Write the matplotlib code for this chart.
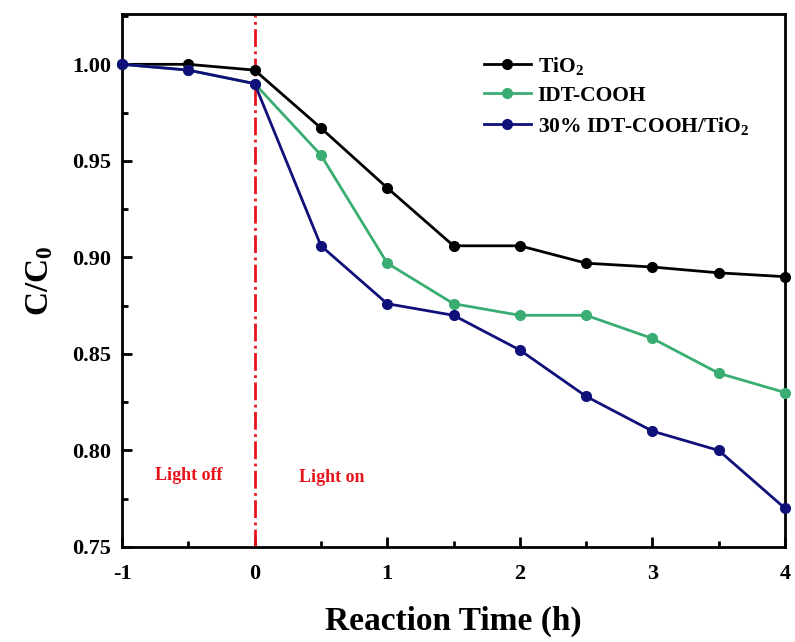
import matplotlib
matplotlib.use('Agg')
import matplotlib.pyplot as plt
from matplotlib.ticker import MultipleLocator, FuncFormatter

plt.rcParams['font.family'] = ['Liberation Serif', 'DejaVu Serif']
plt.rcParams['font.weight'] = 'bold'
plt.rcParams['mathtext.fontset'] = 'custom'
plt.rcParams['mathtext.rm'] = 'Liberation Serif:bold'
plt.rcParams['mathtext.it'] = 'Liberation Serif:bold'
plt.rcParams['mathtext.bf'] = 'Liberation Serif:bold'

# ── data ──────────────────────────────────────────────────────────────────────
time_h = [-1, -0.5, 0, 0.5, 1, 1.5, 2, 2.5, 3, 3.5, 4]
tio2 = [1.000, 1.000, 0.997, 0.967, 0.936, 0.906, 0.906, 0.897, 0.895, 0.892, 0.890]
idt_cooh = [1.000, 0.997, 0.990, 0.953, 0.897, 0.876, 0.870, 0.870, 0.858, 0.840, 0.830]
composite = [1.000, 0.997, 0.990, 0.906, 0.876, 0.870, 0.852, 0.828, 0.810, 0.800, 0.770]

labels = ['TiO$_2$', 'IDT-COOH', '30% IDT-COOH/TiO$_2$']
colors = ['#000000', '#3aad72', '#10107a']

fig = plt.figure(figsize=(7.95, 6.42), dpi=100)
ax = fig.add_axes([0.1535, 0.148, 0.834, 0.830])

for ys, lab, c in zip([tio2, idt_cooh, composite], labels, colors):
    ax.plot(time_h, ys, '-o', color=c, lw=2, ms=7, label=lab, clip_on=False, zorder=3)

ax.axvline(0, color='#e8141c', lw=2, ls='-.', zorder=2)

ax.text(-0.5, 0.787, 'Light off', color='#e8141c', fontsize=13,
        fontweight='bold', ha='center', va='center')
ax.text(0.58, 0.786, 'Light on', color='#e8141c', fontsize=13,
        fontweight='bold', ha='center', va='center')

ax.set_xlim(-1, 4)
ax.set_ylim(0.75, 1.026)
ax.xaxis.set_major_locator(MultipleLocator(1))
ax.xaxis.set_minor_locator(MultipleLocator(0.5))
ax.xaxis.set_major_formatter(FuncFormatter(lambda v, p: '%d' % round(v)))
ax.yaxis.set_major_locator(MultipleLocator(0.05))
ax.yaxis.set_minor_locator(MultipleLocator(0.025))
ax.yaxis.set_major_formatter(FuncFormatter(lambda v, p: '%.2f' % v))
ax.tick_params(which='major', direction='in', length=7, width=2, labelsize=16)
ax.tick_params(axis='x', which='major', pad=12)
ax.tick_params(axis='y', which='major', pad=8)
ax.tick_params(which='minor', direction='in', length=4, width=2)
for lbl in ax.get_xticklabels() + ax.get_yticklabels():
    lbl.set_fontweight('bold')
for s in ax.spines.values():
    s.set_linewidth(2)

ax.set_xlabel('Reaction Time (h)', fontsize=24, fontweight='bold', labelpad=16)
ax.set_ylabel('C/C$_0$', fontsize=24, fontweight='bold', labelpad=12)

leg = ax.legend(loc='upper right', bbox_to_anchor=(0.975, 0.96), frameon=False,
                fontsize=15.5, handlelength=2.2, handletextpad=0.3, labelspacing=0.42)
for t in leg.get_texts():
    t.set_fontweight('bold')

fig.savefig('out.png', dpi=100)
